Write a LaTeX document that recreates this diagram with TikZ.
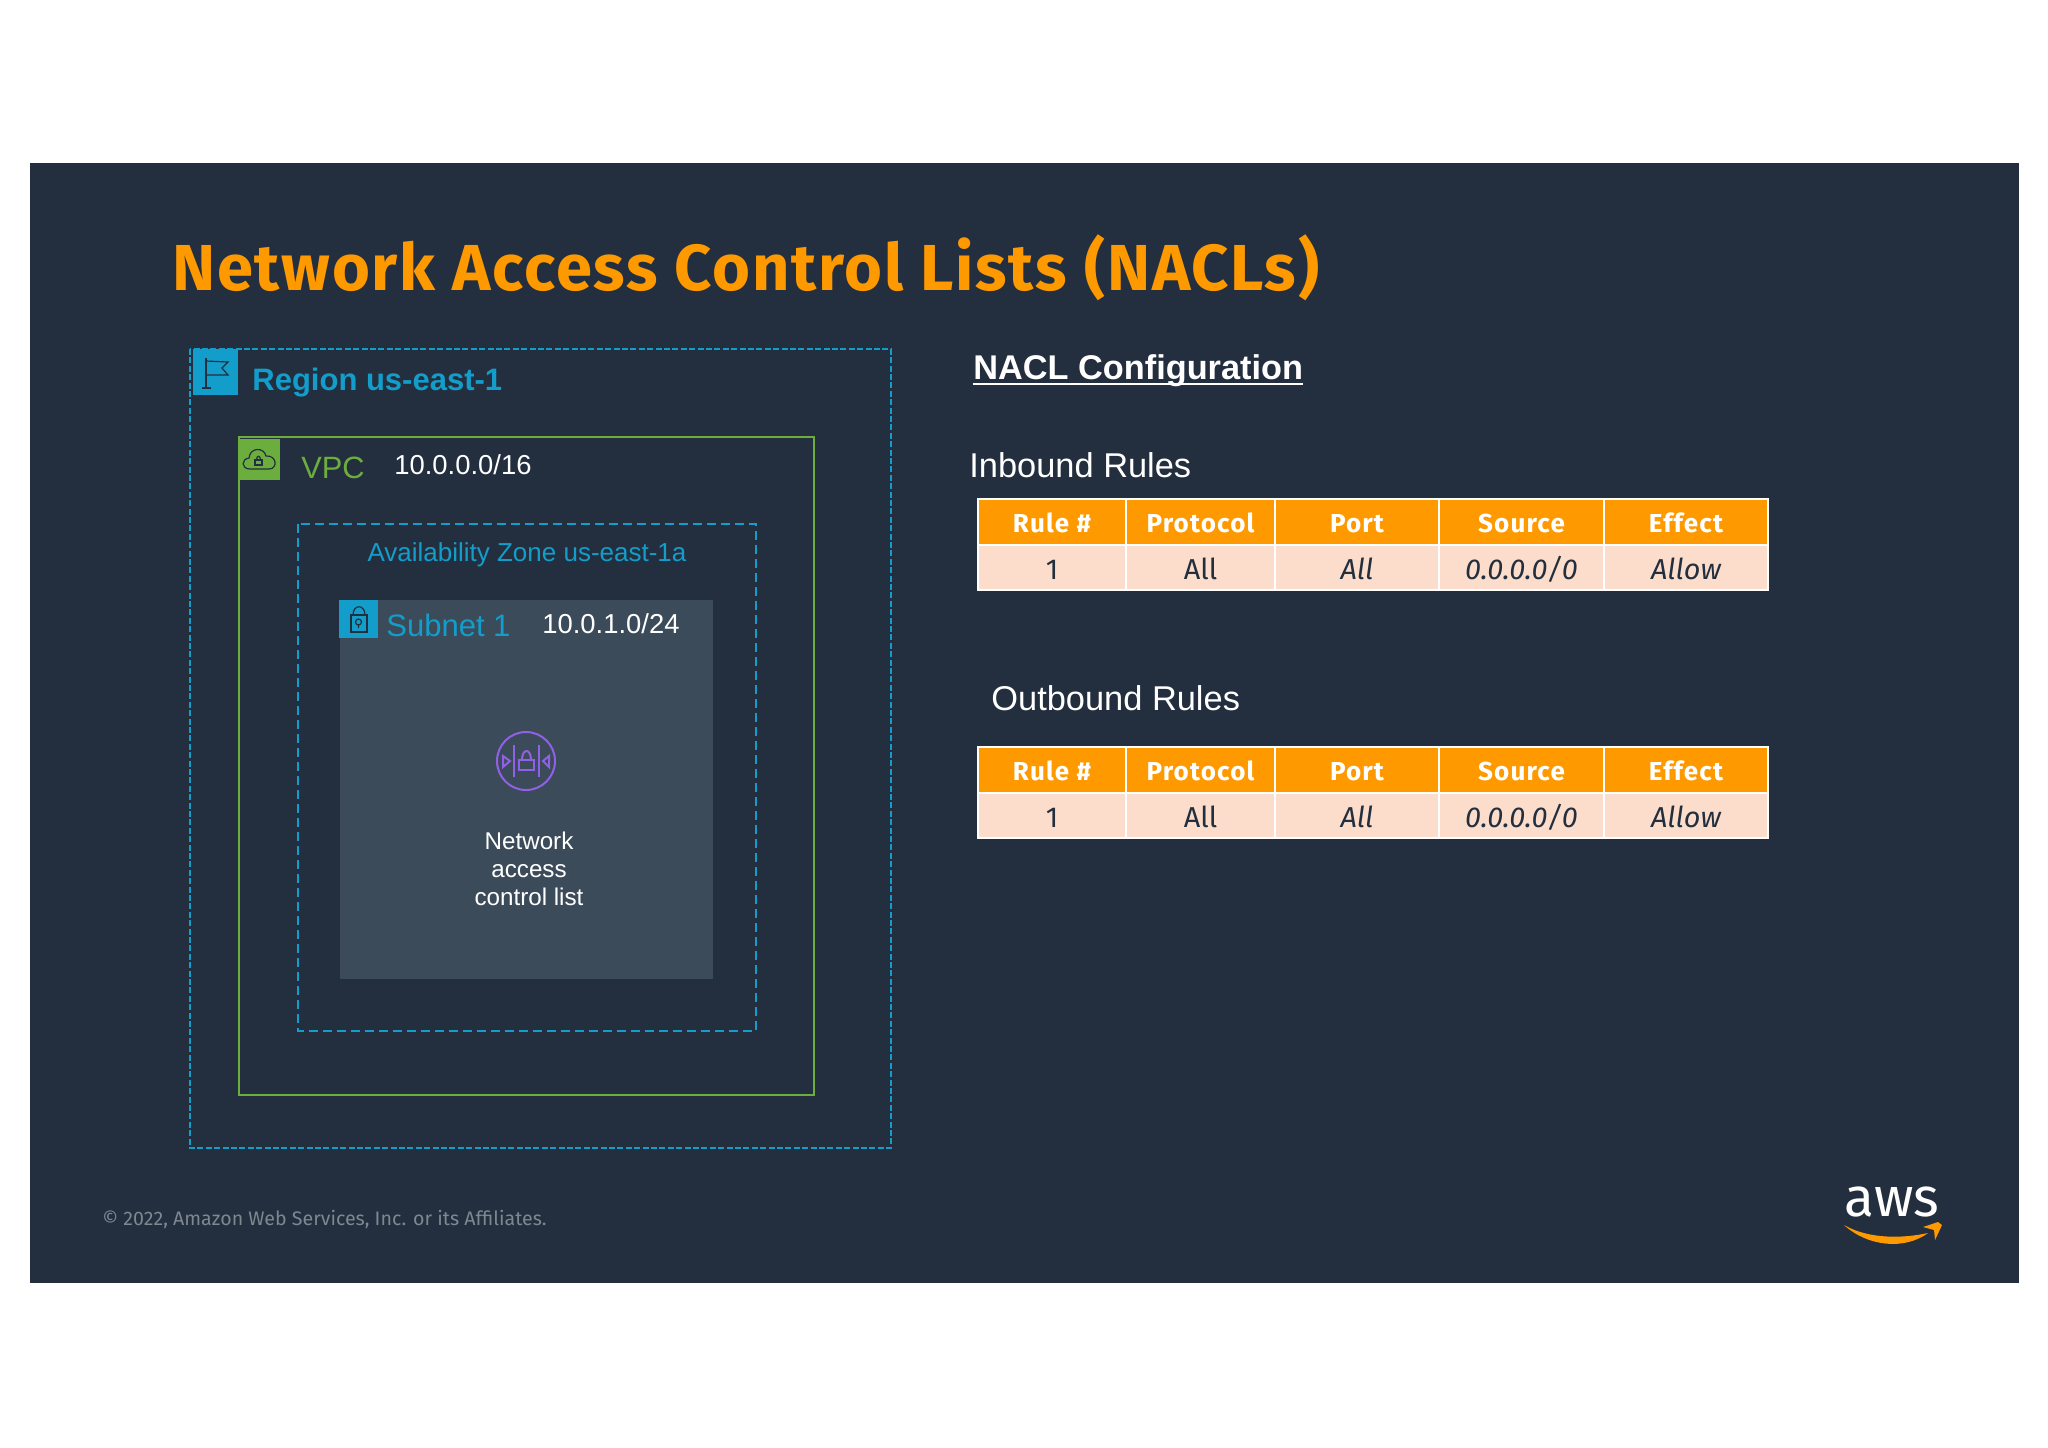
\documentclass[tikz,border=0pt]{standalone}
\usepackage{fontspec}
\setmainfont{Liberation Sans}
\newfontfamily\emberfont{Fira Sans}
\newfontfamily\titlefont[LetterSpace=2.7]{Fira Sans}
\newfontfamily\headfont[LetterSpace=4.5]{Fira Sans}
\usetikzlibrary{arrows}

\definecolor{slidebg}{HTML}{232F3E}
\definecolor{subnetbg}{HTML}{3C4B5A}
\definecolor{awsteal}{HTML}{139DCB}
\definecolor{awsgreen}{HTML}{6CAE3E}
\definecolor{awsorange}{HTML}{FF9900}
\definecolor{cellbg}{HTML}{FCDDCB}
\definecolor{naclpurple}{HTML}{9060E6}
\definecolor{footgray}{HTML}{7F8790}

\begin{document}
\begin{tikzpicture}[
            x = 0.5pt, % one unit is one pixel of the slide
            y = -0.5pt,
            label/.style = {anchor = base west, inner sep = 0pt},
            headcell/.style = {draw = white, line width = 1.2pt, fill = awsorange, text = white,
                inner sep = 0pt, minimum height = 23pt, text height = 10.2pt, text depth = 0pt,
                font = \headfont\bfseries\fontsize{13}{15}\selectfont},
            bodycell/.style = {draw = white, line width = 1pt, fill = cellbg, text = slidebg,
                inner sep = 0pt, minimum height = 23pt, text height = 12pt, text depth = 0pt,
                font = \emberfont\fontsize{14.4}{15}\selectfont},
            flagline/.style = {draw = slidebg, line width = 0.6pt},
            naclline/.style = {draw = naclpurple, line width = 1pt}
        ]

        \useasboundingbox (0,0) rectangle (2048,1447);
        \fill[slidebg] (30,163) rectangle (2019,1282.5);

        \node (title) [label, text = awsorange, font = \titlefont\bfseries\fontsize{32.5}{36}\selectfont]
            at (172,290) {Network Access Control Lists (NACLs)};

        % nested frames
        \draw[awsteal, line width = 0.6pt, dash pattern = on 3pt off 1.2pt] (190,349) rectangle (891,1148);
        \draw[awsgreen, line width = 0.8pt] (239,437) rectangle (814,1095);
        \draw[awsteal, line width = 0.8pt, dash pattern = on 4.5pt off 2.5pt] (298,524) rectangle (756,1031);
        \fill[subnetbg] (340,600) rectangle (713,979);

        % region flag
        \fill[awsteal] (193,349) rectangle (238,395);
        \draw[flagline] (206,358) -- (206,388) (202,388) -- (211,388);
        \draw[flagline] (206,361) -- (228,362) -- (222,368) -- (228,375) -- (206,375);
        \node (region) [label, text = awsteal, font = \bfseries\fontsize{15.5}{18}\selectfont]
            at (252,390) {Region us-east-1};

        % vpc cloud
        \fill[awsgreen] (239,439) rectangle (280,480);
        \draw[flagline] (250,469) .. controls (241,469) and (241,459) .. (249,458)
            .. controls (250,447) and (264,447) .. (266,456)
            .. controls (277,455) and (278,469) .. (269,469) -- cycle;
        \draw[flagline] (255,460) rectangle (262,465);
        \draw[flagline] (256.5,460) .. controls (256.5,455) and (260.5,455) .. (260.5,460);
        \node (vpc) [label, text = awsgreen, font = \fontsize{15.4}{18}\selectfont] at (301,478) {VPC};
        \node (vpccidr) [label, text = white, font = \fontsize{13.7}{15}\selectfont] at (394,474) {10.0.0.0/16};

        \node (zone) [text = awsteal, inner sep = 0pt, font = \fontsize{13}{15}\selectfont]
            at (527,555) {Availability Zone us-east-1a};

        % subnet lock
        \fill[awsteal] (339,600) rectangle (378,638);
        \draw[flagline] (351,615) rectangle (367,632);
        \draw[flagline] (353,615) .. controls (353,604) and (365,604) .. (365,615);
        \draw[flagline] (358.5,622) circle (1.5pt) (358.5,624) -- (358.5,628);
        \node (subnet) [label, text = awsteal, font = \fontsize{15.5}{18}\selectfont] at (386,636) {Subnet 1};
        \node (subnetcidr) [label, text = white, font = \fontsize{13.7}{15}\selectfont] at (542,633) {10.0.1.0/24};

        % nacl icon
        \draw[naclline] (526,761) circle (14.5pt);
        \draw[naclline] (514,745) -- (514,777) (539,745) -- (539,777);
        \draw[naclline] (519,760) rectangle (534,770);
        \draw[naclline] (522,760) .. controls (522,748) and (531,748) .. (531,760);
        \draw[naclline] (503,756) -- (510,761) -- (503,767) -- cycle;
        \draw[naclline] (549,756) -- (543,761) -- (549,767) -- cycle;
        \node (nacl) [text = white, align = center, inner sep = 0pt, font = \fontsize{12.1}{14}\selectfont]
            at (529,869) {Network\\access\\control list};

        % rules side
        \node (config) [label, text = white, font = \bfseries\fontsize{17.15}{20}\selectfont]
            at (973,379) {NACL Configuration};
        \draw[white, line width = 1pt] ([yshift=-2.5pt]config.base west) -- ([yshift=-2.5pt]config.base east);
        \node (inbound) [label, text = white, font = \fontsize{17.2}{20}\selectfont] at (969,477) {Inbound Rules};
        \node (outbound) [label, text = white, font = \fontsize{17.2}{20}\selectfont] at (991,710) {Outbound Rules};

        \foreach \tname/\ytop in {in/499, out/747} {
            \foreach \cname/\cx/\cw/\chead/\cbody in {
                    rule/1052/148/{Rule \#}/{1},
                    proto/1200.5/149/Protocol/All,
                    port/1357/164/Port/{\itshape All},
                    source/1521.5/165/Source/{\itshape 0.0.0.0/0},
                    effect/1686/164/Effect/{\itshape Allow}} {
                \node (\tname\cname body) [bodycell, minimum width = \cw*0.5pt] at (\cx,\ytop+68) {\cbody};
                \node (\tname\cname head) [headcell, minimum width = \cw*0.5pt] at (\cx,\ytop+23) {\chead};
            }
        }

        % footer
        \node (footer) [label, text = footgray, font = \emberfont\fontsize{9.8}{12}\selectfont]
            at (102,1225) {© 2022, Amazon Web Services, Inc. or its Affiliates.};

        \node (aws) [anchor = base, text = white, inner sep = 0pt, font = \emberfont\fontsize{27.5}{30}\selectfont]
            at (1892,1216) {aws};
        \fill[awsorange] (1844,1225) .. controls (1868,1247) and (1905,1250) .. (1928,1233)
            .. controls (1905,1238) and (1870,1240) .. (1844,1225) -- cycle;
        \fill[awsorange] (1923,1227) -- (1938,1222) -- (1942,1225) -- (1935,1240) -- (1934,1230) -- cycle;
    \end{tikzpicture}
\end{document}
